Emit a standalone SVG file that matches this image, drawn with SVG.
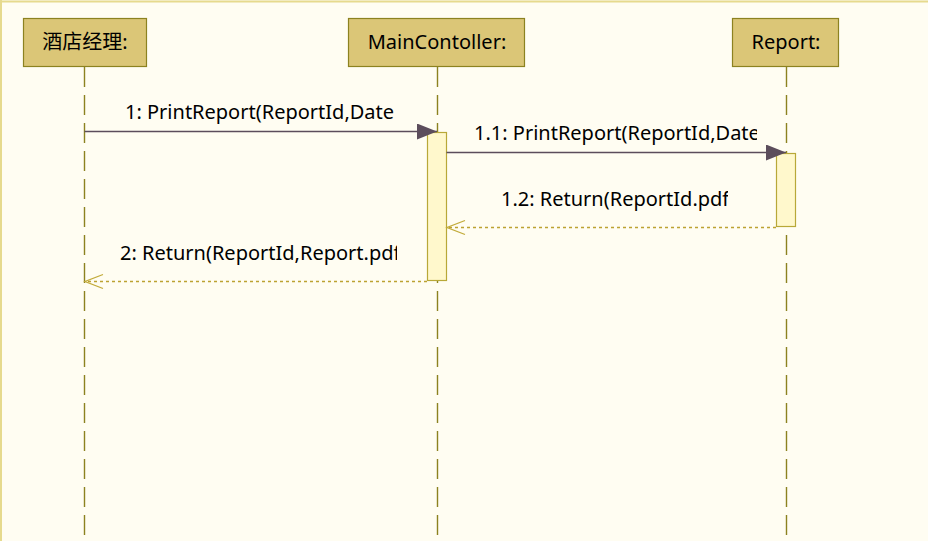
<svg xmlns="http://www.w3.org/2000/svg" width="928" height="541" viewBox="0 0 928 541">
<style>
.head{fill:#dbc677;stroke:#8c8220;stroke-width:1.2}
.life{stroke:#8c8220;stroke-width:1.4;stroke-dasharray:20 8;fill:none}
.act{fill:#fff8cc;stroke:#b8a838;stroke-width:1.2}
.call{stroke:#5c4d5c;stroke-width:1.3;fill:none}
.ret{stroke:#bca232;stroke-width:1.5;stroke-dasharray:3 3;fill:none}
.t{font-family:"Microsoft YaHei","Noto Sans","Noto Sans CJK SC",sans-serif;font-size:20px;fill:#000}
</style>
<defs>
<marker id="fill" markerUnits="userSpaceOnUse" markerWidth="22" markerHeight="18" refX="20" refY="8" orient="auto"><path d="M0,0 L20,8 L0,16 Z" fill="#5c4d5c"/></marker>
<marker id="open" markerUnits="userSpaceOnUse" markerWidth="22" markerHeight="18" refX="19" refY="8" orient="auto"><path d="M1,1 L19,8 L1,15" fill="none" stroke="#c2ab3a" stroke-width="1.3"/></marker>
<clipPath id="c1"><rect x="100" y="90" width="294" height="40"/></clipPath>
<clipPath id="c2"><rect x="460" y="110" width="297" height="40"/></clipPath>
<clipPath id="c3"><rect x="480" y="175" width="248" height="40"/></clipPath>
<clipPath id="c4"><rect x="100" y="230" width="297" height="40"/></clipPath>
</defs>
<rect x="0" y="0" width="928" height="541" fill="#fffdf2"/>
<line x1="0" y1="1.5" x2="928" y2="1.5" stroke="#e6da8e" stroke-width="2"/>
<line x1="1" y1="0" x2="1" y2="541" stroke="#e6da8e" stroke-width="2"/>
<g id="lifelines">
<line class="life" x1="84.5" y1="67" x2="84.5" y2="541"/>
<line class="life" x1="437.5" y1="67" x2="437.5" y2="541"/>
<line class="life" x1="786.5" y1="67" x2="786.5" y2="541"/>
</g>
<g id="n1"><rect class="head" x="23.5" y="18.5" width="123" height="48"/><text class="t" x="85" y="49" text-anchor="middle">酒店经理:</text></g>
<g id="n2"><rect class="head" x="348.5" y="18.5" width="176" height="48"/><text class="t" x="437" y="49" text-anchor="middle">MainContoller:</text></g>
<g id="n3"><rect class="head" x="732.5" y="18.5" width="106" height="48"/><text class="t" x="786" y="49" text-anchor="middle">Report:</text></g>
<g id="activations">
<rect class="act" x="427.5" y="132.5" width="19" height="148"/>
<rect class="act" x="776.5" y="153.5" width="19" height="73"/>
</g>
<g id="connectors">
<line class="call" x1="84.5" y1="131.5" x2="437" y2="131.5" marker-end="url(#fill)"/>
<line class="call" x1="446.5" y1="152.5" x2="786" y2="152.5" marker-end="url(#fill)"/>
<line class="ret" x1="776" y1="227.5" x2="447" y2="227.5" marker-end="url(#open)"/>
<line class="ret" x1="427" y1="281.5" x2="85" y2="281.5" marker-end="url(#open)"/>
</g>
<g id="labels">
<text class="t" x="125" y="119" clip-path="url(#c1)">1: PrintReport(ReportId,Date)</text>
<text class="t" x="474" y="140" clip-path="url(#c2)">1.1: PrintReport(ReportId,Date)</text>
<text class="t" x="501" y="206" clip-path="url(#c3)">1.2: Return(ReportId.pdf)</text>
<text class="t" x="120" y="260" clip-path="url(#c4)">2: Return(ReportId,Report.pdf)</text>
</g>
</svg>
